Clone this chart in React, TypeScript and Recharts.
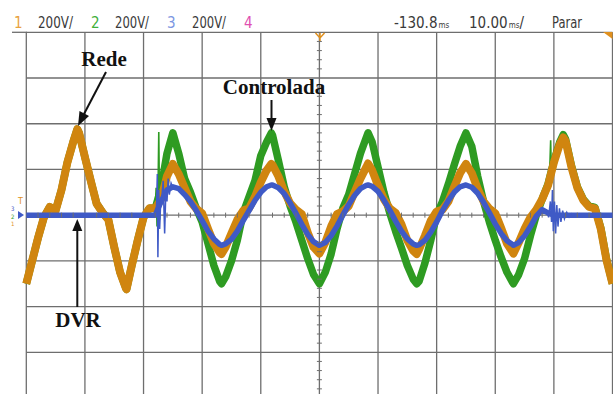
import { LineChart, Line, XAxis, YAxis, CartesianGrid, ReferenceDot } from 'recharts';

// time axis in ms (10 ms/div), voltages in divisions (200 V/div)
const timeMs = [
  0, 1, 2, 3, 4, 5, 6, 7, 8, 8.7,
  9, 10, 11, 12, 13, 14, 15, 16, 17, 17.1,
  18, 19, 20, 21, 22, 23, 24, 25, 26, 27,
  28, 29, 30, 31, 32, 33, 33.3, 34, 35, 36,
  37, 38, 39, 40, 41, 41.8, 42, 43, 44, 45,
  46, 47, 48, 49, 50, 51, 52, 53, 54, 55,
  56, 57, 58, 58.3, 59, 60, 61, 62, 63, 64,
  65, 66, 66.6, 67, 68, 69, 70, 71, 72, 73,
  74, 75, 76, 77, 78, 79, 80, 81, 82, 83,
  83.1, 84, 85, 86, 87, 88, 89, 90, 91, 91.6,
  92, 93, 94, 95, 96, 97, 98, 99, 100,
];

// channel 1 - Rede
const redeDiv = [
  -1.5, -1.0, -0.5, -0.05, 0.18, 0.1, 0.55, 1.15, 1.6, 1.88,
  1.8, 1.27, 0.75, 0.25, 0.06, -0.1, -0.7, -1.25, -1.6, -1.62,
  -1.1, -0.55, -0.05, 0.15, 0.15, 0.35, 0.85, 1.12, 0.9, 0.6,
  0.3, 0.14, 0.04, -0.3, -0.62, -0.82, -0.85, -0.7, -0.4, -0.1,
  0.1, 0.15, 0.4, 0.72, 0.98, 1.12, 1.1, 0.85, 0.52, 0.26,
  0.12, 0.02, -0.38, -0.7, -0.84, -0.6, -0.25, 0.02, 0.08, 0.2,
  0.5, 0.8, 1.05, 1.13, 0.98, 0.65, 0.35, 0.15, 0.05, -0.2,
  -0.55, -0.78, -0.85, -0.75, -0.45, -0.12, 0.08, 0.12, 0.3, 0.62,
  0.92, 1.12, 0.92, 0.58, 0.3, 0.14, 0.04, -0.28, -0.62, -0.82,
  -0.84, -0.6, -0.3, -0.05, 0.12, 0.35, 0.65, 1.15, 1.55, 1.7,
  1.62, 1.05, 0.6, 0.33, 0.18, 0.15, -0.3, -1.0, -1.5,
];

// channel 2 - Controlada (load)
const controladaDiv = [
  -1.5, -1.0, -0.5, -0.05, 0.18, 0.1, 0.55, 1.15, 1.6, 1.88,
  1.8, 1.27, 0.75, 0.25, 0.06, -0.1, -0.7, -1.25, -1.6, -1.62,
  -1.1, -0.55, -0.05, 0.15, 0.15, 0.6, 1.35, 1.8, 1.35, 0.8,
  0.5, 0.15, -0.15, -0.62, -1.1, -1.45, -1.5, -1.35, -1.0, -0.55,
  0.05, 0.4, 0.75, 1.3, 1.6, 1.8, 1.75, 1.2, 0.62, 0.2,
  -0.15, -0.55, -0.95, -1.3, -1.5, -1.25, -0.85, -0.3, 0.15, 0.45,
  0.9, 1.35, 1.7, 1.8, 1.6, 1.05, 0.5, 0.05, -0.35, -0.72,
  -1.1, -1.4, -1.5, -1.45, -1.05, -0.55, 0.0, 0.3, 0.68, 1.1,
  1.5, 1.8, 1.5, 0.85, 0.3, -0.15, -0.55, -0.92, -1.25, -1.48,
  -1.5, -1.3, -0.95, -0.45, 0.0, 0.35, 0.68, 1.18, 1.6, 1.76,
  1.66, 1.08, 0.62, 0.35, 0.2, 0.17, -0.28, -0.98, -1.5,
];

// channel 3 - DVR
const dvrDiv = [
  0, 0, 0, 0, 0, 0, 0, 0, 0, 0,
  0, 0, 0, 0, 0, 0, 0, 0, 0, 0,
  0, 0, 0, 0, 0, 0.3, 0.55, 0.62, 0.58, 0.45,
  0.3, 0.1, -0.12, -0.35, -0.52, -0.64, -0.66, -0.63, -0.53, -0.35,
  -0.12, 0.1, 0.32, 0.5, 0.62, 0.66, 0.66, 0.6, 0.47, 0.27,
  0.04, -0.2, -0.42, -0.58, -0.66, -0.6, -0.45, -0.24, 0.0, 0.23,
  0.43, 0.58, 0.65, 0.66, 0.63, 0.52, 0.33, 0.11, -0.13, -0.35,
  -0.52, -0.63, -0.66, -0.65, -0.55, -0.37, -0.15, 0.1, 0.32, 0.5,
  0.62, 0.66, 0.61, 0.48, 0.28, 0.05, -0.19, -0.4, -0.56, -0.65,
  -0.66, -0.6, -0.45, -0.25, -0.02, 0.12, 0.05, 0, 0, 0,
  0, 0, 0, 0, 0, 0, 0, 0, 0,
];

// switching transients (thin traces)
const dvrStartMs = [22.0, 22.2, 22.35, 22.45, 22.6, 22.75, 22.9, 23.1, 23.35, 23.6, 23.8, 24.0, 24.2, 24.4, 24.7, 25.0];
const dvrStartDiv = [0, 0.1, 0.9, -0.92, 0.55, -0.3, 0.2, 0.35, 0.75, -0.4, 0.5, 0.3, 0.8, 0.45, 0.7, 0.6];
const dvrEndMs = [88.8, 89.1, 89.4, 89.6, 89.75, 89.9, 90.1, 90.3, 90.5, 90.7, 90.95, 91.2, 91.5, 91.8, 92.2, 92.6, 93.0, 93.5];
const dvrEndDiv = [0.1, -0.05, 0.3, -0.15, 0.55, -0.35, 0.3, -0.4, 0.22, -0.25, 0.15, -0.15, 0.1, -0.08, 0.06, -0.04, 0.03, 0];
const controladaStartMs = [22.0, 22.15, 22.3, 22.45, 22.6, 22.75, 22.9, 23.1];
const controladaStartDiv = [0.15, 0.6, -0.25, 0.3, 1.82, -0.1, 0.5, 0.7];
const controladaEndMs = [89.2, 89.45, 89.6, 89.75, 89.9];
const controladaEndDiv = [0.6, 1.64, 0.7, 1.2, 1.0];

const timeTicks = [0, 10, 20, 30, 40, 50, 60, 70, 80, 90, 100];
const divTicks = [-4, -3, -2, -1, 0, 1, 2, 3, 4];

const ORANGE = '#D0850F';
const GREEN = '#2E9B22';
const BLUE = '#3F5AC6';
const GRID = '#6e6e6e';

const table = timeMs.map((t, i) => ({
  t,
  rede: redeDiv[i],
  controlada: controladaDiv[i],
  dvr: dvrDiv[i],
}));

const pairs = (ts: number[], vs: number[]) => ts.map((t, i) => ({ t, v: vs[i] }));

// minor graticule ticks on the centre lines (5 per division)
const minorX = Array.from({ length: 51 }, (_, i) => i * 2).filter(t => t % 10 !== 0);
const minorY = Array.from({ length: 41 }, (_, i) => -4 + i * 0.2).filter(v => Math.abs(v - Math.round(v)) > 0.01);

const HTick = (props: any) => (
  <line x1={props.cx} x2={props.cx} y1={props.cy - 2.5} y2={props.cy + 2.5} stroke={GRID} strokeWidth={1} />
);
const VTick = (props: any) => (
  <line x1={props.cx - 2.5} x2={props.cx + 2.5} y1={props.cy} y2={props.cy} stroke={GRID} strokeWidth={1} />
);

const headFont = '"Liberation Sans Narrow", "DejaVu Sans Condensed", "Liberation Sans", sans-serif';
const labelFont = '"Liberation Serif", "DejaVu Serif", serif';

const App = () => {
  return (
    <div style={{ position: 'absolute', left: 0, top: 0, width: 613, height: 394, overflow: 'hidden', background: '#fff' }}>
      <LineChart
        width={613}
        height={398}
        data={table}
        margin={{ top: 32.3, right: 0.5, left: 26.3, bottom: 0 }}
      >
        <CartesianGrid stroke={GRID} strokeWidth={1.3} />
        <XAxis type="number" dataKey="t" domain={[0, 100]} ticks={timeTicks} hide allowDuplicatedCategory={false} />
        <YAxis type="number" domain={[-4, 4]} ticks={divTicks} hide />
        {minorX.map(t => (
          <ReferenceDot key={`mx-${t}`} x={t} y={0} shape={HTick} />
        ))}
        {minorY.map(v => (
          <ReferenceDot key={`my-${v.toFixed(1)}`} x={50} y={v} shape={VTick} />
        ))}
        <Line dataKey="controlada" stroke={GREEN} strokeWidth={7.5} dot={false} type="linear" isAnimationActive={false} strokeLinejoin="round" />
        <Line data={pairs(controladaStartMs, controladaStartDiv)} dataKey="v" stroke={GREEN} strokeWidth={1.6} dot={false} type="linear" isAnimationActive={false} />
        <Line data={pairs(controladaEndMs, controladaEndDiv)} dataKey="v" stroke={GREEN} strokeWidth={1.6} dot={false} type="linear" isAnimationActive={false} />
        <Line dataKey="rede" stroke={ORANGE} strokeWidth={8} dot={false} type="linear" isAnimationActive={false} strokeLinejoin="round" />
        <Line dataKey="dvr" stroke={BLUE} strokeWidth={5.5} dot={false} type="linear" isAnimationActive={false} strokeLinejoin="round" />
        <Line data={pairs(dvrStartMs, dvrStartDiv)} dataKey="v" stroke={BLUE} strokeWidth={1.5} dot={false} type="linear" isAnimationActive={false} />
        <Line data={pairs(dvrEndMs, dvrEndDiv)} dataKey="v" stroke={BLUE} strokeWidth={1.5} dot={false} type="linear" isAnimationActive={false} />
      </LineChart>

      <svg width={613} height={394} style={{ position: 'absolute', left: 0, top: 0, pointerEvents: 'none' }}>
        {/* scope header */}
        <g fontFamily={headFont} fontSize={15}>
          <text x={14} y={28} fill="#E9A23F">1</text>
          <text x={38} y={28} fill="#3a3a3a" textLength={35} lengthAdjust="spacingAndGlyphs">200V/</text>
          <text x={91} y={28} fill="#3FB03A">2</text>
          <text x={115} y={28} fill="#3a3a3a" textLength={34} lengthAdjust="spacingAndGlyphs">200V/</text>
          <text x={167} y={28} fill="#7C96E2">3</text>
          <text x={192} y={28} fill="#3a3a3a" textLength={34} lengthAdjust="spacingAndGlyphs">200V/</text>
          <text x={244} y={28} fill="#E04FB0">4</text>
          <text x={394} y={28} fill="#3a3a3a">
            -130.8<tspan fontSize={8} dx={1}>ms</tspan>
          </text>
          <text x={469} y={28} fill="#3a3a3a">
            10.00<tspan fontSize={8} dx={1}>ms</tspan><tspan>/</tspan>
          </text>
          <text x={552} y={28} fill="#3a3a3a" textLength={30} lengthAdjust="spacingAndGlyphs">Parar</text>
        </g>
        <line x1={12} x2={27} y1={32.3} y2={32.3} stroke={GRID} strokeWidth={1.3} />
        {/* trigger markers */}
        <path d="M315.5,33 L320,38 L324.5,33 M320,33 L320,41" stroke="#E0901E" strokeWidth={1.5} fill="none" />
        <polygon points="603,32 612.5,32 612.5,39" fill="#E0901E" />
        <text x={18} y={204} fontSize={9} fill="#E0901E" fontFamily={headFont}>T</text>
        <g fontSize={6} fontFamily={headFont}>
          <text x={11} y={211} fill={BLUE}>3</text>
          <text x={11} y={218.5} fill={GREEN}>2</text>
          <text x={11} y={226} fill="#E0901E">1</text>
        </g>
        <polygon points="18,211 24,215 18,219" fill={BLUE} />

        {/* annotations */}
        <g fontFamily={labelFont} fontWeight="bold" fontSize={21} fill="#111">
          <text x={104} y={66} textAnchor="middle">Rede</text>
          <text x={274} y={94} textAnchor="middle">Controlada</text>
          <text x={78} y={327} textAnchor="middle">DVR</text>
        </g>
        <g stroke="#111" strokeWidth={2} fill="#111">
          <line x1={106} y1={72} x2={84} y2={114} />
          <polygon points="78,126 79.5,111 89,116" stroke="none" />
          <line x1={271.5} y1={100} x2={271.5} y2={120} />
          <polygon points="271.5,131 266.5,118 276.5,118" stroke="none" />
          <line x1={77.3} y1={307} x2={77.3} y2={228} />
          <polygon points="77.3,219 72.3,231 82.3,231" stroke="none" />
        </g>
      </svg>
    </div>
  );
};

export default App;
